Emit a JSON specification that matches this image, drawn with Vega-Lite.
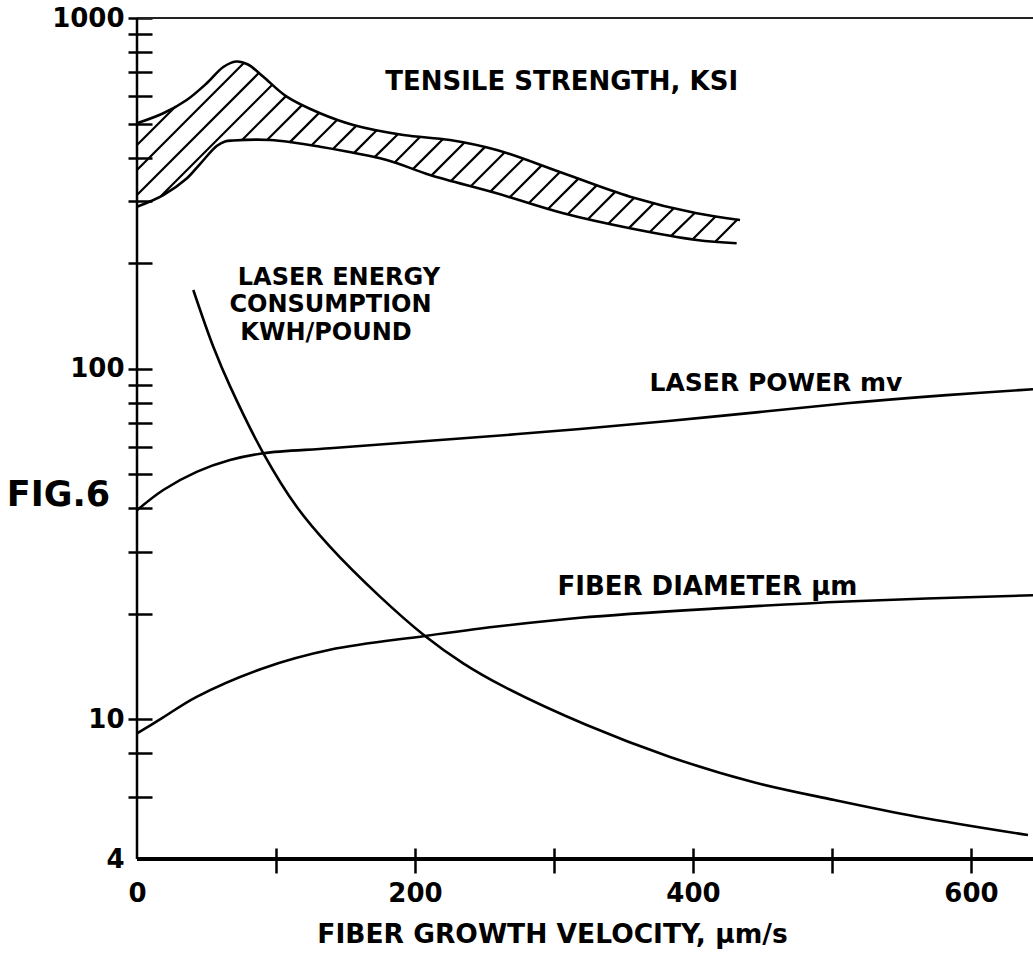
{
  "$schema": "https://vega.github.io/schema/vega-lite/v6.json",
  "width": 896,
  "height": 841,
  "autosize": {"type": "none"},
  "padding": {"left": 137, "top": 18, "right": 0, "bottom": 94},
  "background": "white",
  "config": {"view": {"stroke": null}, "font": "DejaVu Sans"},
  "datasets": {
    "curves": [
      {"series": "power", "x": 0, "y": 39.5},
      {"series": "power", "x": 18.9, "y": 45.1},
      {"series": "power", "x": 42.9, "y": 50.8},
      {"series": "power", "x": 66.9, "y": 54.9},
      {"series": "power", "x": 90.9, "y": 57.4},
      {"series": "power", "x": 138.8, "y": 59.3},
      {"series": "power", "x": 210.8, "y": 62.3},
      {"series": "power", "x": 318.7, "y": 67.3},
      {"series": "power", "x": 414.6, "y": 73.0},
      {"series": "power", "x": 510.6, "y": 79.7},
      {"series": "power", "x": 582.5, "y": 84.1},
      {"series": "power", "x": 644.6, "y": 87.4},
      {"series": "diameter", "x": 0, "y": 9.13},
      {"series": "diameter", "x": 16.5, "y": 10.0},
      {"series": "diameter", "x": 42.9, "y": 11.6},
      {"series": "diameter", "x": 90.9, "y": 14.0},
      {"series": "diameter", "x": 138.8, "y": 15.8},
      {"series": "diameter", "x": 207.2, "y": 17.3},
      {"series": "diameter", "x": 258.8, "y": 18.4},
      {"series": "diameter", "x": 318.7, "y": 19.5},
      {"series": "diameter", "x": 414.6, "y": 20.7},
      {"series": "diameter", "x": 510.6, "y": 21.7},
      {"series": "diameter", "x": 644.6, "y": 22.6},
      {"series": "energy", "x": 40.5, "y": 167.7},
      {"series": "energy", "x": 54.9, "y": 115.5},
      {"series": "energy", "x": 66.9, "y": 89.2},
      {"series": "energy", "x": 90.9, "y": 57.4},
      {"series": "energy", "x": 114.9, "y": 40.4},
      {"series": "energy", "x": 138.8, "y": 31.1},
      {"series": "energy", "x": 174.8, "y": 22.4},
      {"series": "energy", "x": 207.2, "y": 17.3},
      {"series": "energy", "x": 234.7, "y": 14.45},
      {"series": "energy", "x": 264, "y": 12.4},
      {"series": "energy", "x": 323.5, "y": 9.64},
      {"series": "energy", "x": 383, "y": 7.83},
      {"series": "energy", "x": 442.4, "y": 6.64},
      {"series": "energy", "x": 501.8, "y": 5.89},
      {"series": "energy", "x": 561.2, "y": 5.28},
      {"series": "energy", "x": 641, "y": 4.68},
      {"series": "ts_upper", "x": 0, "y": 500.9},
      {"series": "ts_upper", "x": 18.92, "y": 534.9},
      {"series": "ts_upper", "x": 35.76, "y": 583.7},
      {"series": "ts_upper", "x": 50.14, "y": 651.3},
      {"series": "ts_upper", "x": 62.09, "y": 724.9},
      {"series": "ts_upper", "x": 71.22, "y": 751.6},
      {"series": "ts_upper", "x": 79.86, "y": 736.9},
      {"series": "ts_upper", "x": 90.9, "y": 680},
      {"series": "ts_upper", "x": 107.7, "y": 596.6},
      {"series": "ts_upper", "x": 131.7, "y": 535},
      {"series": "ts_upper", "x": 155.6, "y": 495.4},
      {"series": "ts_upper", "x": 191.6, "y": 463.9},
      {"series": "ts_upper", "x": 225.2, "y": 448.9},
      {"series": "ts_upper", "x": 258.8, "y": 420.4},
      {"series": "ts_upper", "x": 306.7, "y": 360.7},
      {"series": "ts_upper", "x": 354.7, "y": 309.4},
      {"series": "ts_upper", "x": 402.7, "y": 277.4},
      {"series": "ts_upper", "x": 433.8, "y": 265.5},
      {"series": "ts_lower", "x": 0, "y": 289.7},
      {"series": "ts_lower", "x": 18.92, "y": 312.8},
      {"series": "ts_lower", "x": 35.76, "y": 348.6},
      {"series": "ts_lower", "x": 45.32, "y": 383.4},
      {"series": "ts_lower", "x": 57.34, "y": 431.5},
      {"series": "ts_lower", "x": 63.31, "y": 444.5},
      {"series": "ts_lower", "x": 69.28, "y": 447.4},
      {"series": "ts_lower", "x": 95.7, "y": 448.9},
      {"series": "ts_lower", "x": 131.7, "y": 429.5},
      {"series": "ts_lower", "x": 179.6, "y": 393.6},
      {"series": "ts_lower", "x": 210.8, "y": 356.7},
      {"series": "ts_lower", "x": 258.8, "y": 316.3},
      {"series": "ts_lower", "x": 306.7, "y": 277.4},
      {"series": "ts_lower", "x": 354.7, "y": 251.4},
      {"series": "ts_lower", "x": 402.7, "y": 232.8},
      {"series": "ts_lower", "x": 431.4, "y": 227.8}
    ],
    "hatch": [
      {"x": 0, "y": 434.3, "x2": 27.9, "y2": 560.5},
      {"x": 0, "y": 368.6, "x2": 76.7, "y2": 743.0},
      {"x": 0, "y": 312.8, "x2": 87.6, "y2": 696.5},
      {"x": 17.27, "y": 310.8, "x2": 97.48, "y2": 646.2},
      {"x": 75.25, "y": 447.6, "x2": 107.12, "y2": 598.8},
      {"x": 93.53, "y": 448.9, "x2": 119.06, "y2": 566.3},
      {"x": 109.64, "y": 441.3, "x2": 131.01, "y2": 536.3},
      {"x": 125.47, "y": 432.7, "x2": 144.24, "y2": 513.6},
      {"x": 140.79, "y": 422.6, "x2": 157.84, "y2": 493.4},
      {"x": 155.83, "y": 411.1, "x2": 172.81, "y2": 480.0},
      {"x": 170.58, "y": 399.9, "x2": 187.84, "y2": 466.9},
      {"x": 185.18, "y": 386.7, "x2": 203.74, "y2": 458.4},
      {"x": 198.49, "y": 370.8, "x2": 220.0, "y2": 451.2},
      {"x": 211.94, "y": 355.8, "x2": 235.25, "y2": 440.1},
      {"x": 226.04, "y": 343.4, "x2": 250.07, "y2": 427.6},
      {"x": 240.14, "y": 331.4, "x2": 264.24, "y2": 413.0},
      {"x": 254.24, "y": 319.9, "x2": 277.63, "y2": 395.7},
      {"x": 268.2, "y": 308.3, "x2": 290.94, "y2": 379.4},
      {"x": 282.01, "y": 296.8, "x2": 304.24, "y2": 363.6},
      {"x": 295.83, "y": 285.7, "x2": 317.55, "y2": 348.4},
      {"x": 309.86, "y": 275.6, "x2": 330.86, "y2": 333.8},
      {"x": 324.53, "y": 267.4, "x2": 344.17, "y2": 319.9},
      {"x": 339.21, "y": 259.4, "x2": 357.77, "y2": 307.1},
      {"x": 353.88, "y": 251.7, "x2": 372.16, "y2": 297.4},
      {"x": 369.14, "y": 245.7, "x2": 386.55, "y2": 287.8},
      {"x": 384.46, "y": 239.6, "x2": 401.44, "y2": 278.5},
      {"x": 399.78, "y": 233.9, "x2": 416.4, "y2": 272.2},
      {"x": 416.19, "y": 230.5, "x2": 431.94, "y2": 266.2}
    ],
    "labels_26": [
      {"text": "TENSILE STRENGTH, KSI", "x": 305.5, "y": 658},
      {"text": "FIBER DIAMETER μm", "x": 410.4, "y": 23.9}
    ],
    "labels_25": [
      {"text": "LASER POWER mv", "x": 459.7, "y": 91.0}
    ],
    "labels_energy": [
      {"text": "LASER ENERGY", "x": 145.3, "y": 181.4},
      {"text": "CONSUMPTION", "x": 139.2, "y": 152.0},
      {"text": "KWH/POUND", "x": 136.0, "y": 126.4}
    ],
    "labels_fig": [
      {"text": "FIG.6", "x": -56.5, "y": 43.6}
    ]
  },
  "layer": [
    {
      "data": {"name": "curves"},
      "mark": {"type": "line", "interpolate": "catmull-rom", "color": "black", "strokeWidth": 2.6},
      "encoding": {
        "x": {
          "field": "x", "type": "quantitative",
          "scale": {"type": "linear", "domain": [0, 644.6], "nice": false, "zero": false},
          "axis": {
            "values": [0, 100, 200, 300, 400, 500, 600],
            "labelExpr": "datum.value % 200 == 0 ? format(datum.value, 'd') : ''",
            "domain": false, "grid": false, "offset": -11, "tickSize": 25, "tickWidth": 2.5, "tickColor": "black",
            "tickOpacity": {"condition": {"test": "datum.value == 0", "value": 0}, "value": 1},
            "labelFont": "DejaVu Sans", "labelFontWeight": "bold", "labelFontSize": 26, "labelColor": "black",
            "labelPadding": 7.5, "labelFlush": false, "labelOverlap": false,
            "title": "FIBER GROWTH VELOCITY, μm/s",
            "titleFont": "DejaVu Sans", "titleFontWeight": "bold", "titleFontSize": 26.5, "titleColor": "black",
            "titleX": 415, "titleY": 94, "titleBaseline": "alphabetic", "titleAlign": "center"
          }
        },
        "y": {
          "field": "y", "type": "quantitative",
          "scale": {"type": "log", "domain": [4, 1000], "nice": false},
          "axis": {
            "values": [4, 6, 8, 10, 20, 30, 40, 50, 60, 70, 80, 90, 100, 200, 300, 400, 500, 600, 700, 800, 900, 1000],
            "labelExpr": "datum.value == 4 || datum.value == 10 || datum.value == 100 || datum.value == 1000 ? format(datum.value, 'd') : ''",
            "domain": false, "grid": false, "offset": -15, "tickSize": 24, "tickWidth": 2.5, "tickColor": "black",
            "tickOpacity": {"condition": {"test": "datum.value == 4", "value": 0}, "value": 1},
            "labelFont": "DejaVu Sans", "labelFontWeight": "bold", "labelFontSize": 26, "labelColor": "black",
            "labelPadding": 4, "labelFlush": false, "labelOverlap": false,
            "title": null
          }
        },
        "detail": {"field": "series"}
      }
    },
    {
      "data": {"name": "hatch"},
      "mark": {"type": "rule", "color": "black", "strokeWidth": 2.2},
      "encoding": {
        "x": {"field": "x", "type": "quantitative", "scale": {"type": "linear", "domain": [0, 644.6], "nice": false, "zero": false}},
        "y": {"field": "y", "type": "quantitative", "scale": {"type": "log", "domain": [4, 1000], "nice": false}},
        "x2": {"field": "x2"},
        "y2": {"field": "y2"}
      }
    },
    {
      "data": {"values": [{}]},
      "mark": {"type": "rule", "color": "#222222", "strokeWidth": 2},
      "encoding": {"y": {"datum": 1000, "type": "quantitative", "scale": {"type": "log", "domain": [4, 1000], "nice": false}}}
    },
    {
      "data": {"values": [{}]},
      "mark": {"type": "rule", "color": "black", "strokeWidth": 4},
      "encoding": {"y": {"datum": 4, "type": "quantitative", "scale": {"type": "log", "domain": [4, 1000], "nice": false}}}
    },
    {
      "data": {"values": [{}]},
      "mark": {"type": "rule", "color": "black", "strokeWidth": 2.5},
      "encoding": {"x": {"datum": 0, "type": "quantitative", "scale": {"type": "linear", "domain": [0, 644.6], "nice": false, "zero": false}}}
    },
    {
      "data": {"name": "labels_26"},
      "mark": {"type": "text", "font": "DejaVu Sans", "fontWeight": "bold", "fontSize": 26, "align": "center", "baseline": "middle", "color": "black"},
      "encoding": {
        "x": {"field": "x", "type": "quantitative", "scale": {"type": "linear", "domain": [0, 644.6], "nice": false, "zero": false}},
        "y": {"field": "y", "type": "quantitative", "scale": {"type": "log", "domain": [4, 1000], "nice": false}},
        "text": {"field": "text"}
      }
    },
    {
      "data": {"name": "labels_25"},
      "mark": {"type": "text", "font": "DejaVu Sans", "fontWeight": "bold", "fontSize": 25, "align": "center", "baseline": "middle", "color": "black"},
      "encoding": {
        "x": {"field": "x", "type": "quantitative", "scale": {"type": "linear", "domain": [0, 644.6], "nice": false, "zero": false}},
        "y": {"field": "y", "type": "quantitative", "scale": {"type": "log", "domain": [4, 1000], "nice": false}},
        "text": {"field": "text"}
      }
    },
    {
      "data": {"name": "labels_energy"},
      "mark": {"type": "text", "font": "DejaVu Sans", "fontWeight": "bold", "fontSize": 24, "align": "center", "baseline": "middle", "color": "black"},
      "encoding": {
        "x": {"field": "x", "type": "quantitative", "scale": {"type": "linear", "domain": [0, 644.6], "nice": false, "zero": false}},
        "y": {"field": "y", "type": "quantitative", "scale": {"type": "log", "domain": [4, 1000], "nice": false}},
        "text": {"field": "text"}
      }
    },
    {
      "data": {"name": "labels_fig"},
      "mark": {"type": "text", "font": "DejaVu Sans", "fontWeight": "bold", "fontSize": 35, "align": "center", "baseline": "middle", "color": "black"},
      "encoding": {
        "x": {"field": "x", "type": "quantitative", "scale": {"type": "linear", "domain": [0, 644.6], "nice": false, "zero": false}},
        "y": {"field": "y", "type": "quantitative", "scale": {"type": "log", "domain": [4, 1000], "nice": false}},
        "text": {"field": "text"}
      }
    }
  ]
}
